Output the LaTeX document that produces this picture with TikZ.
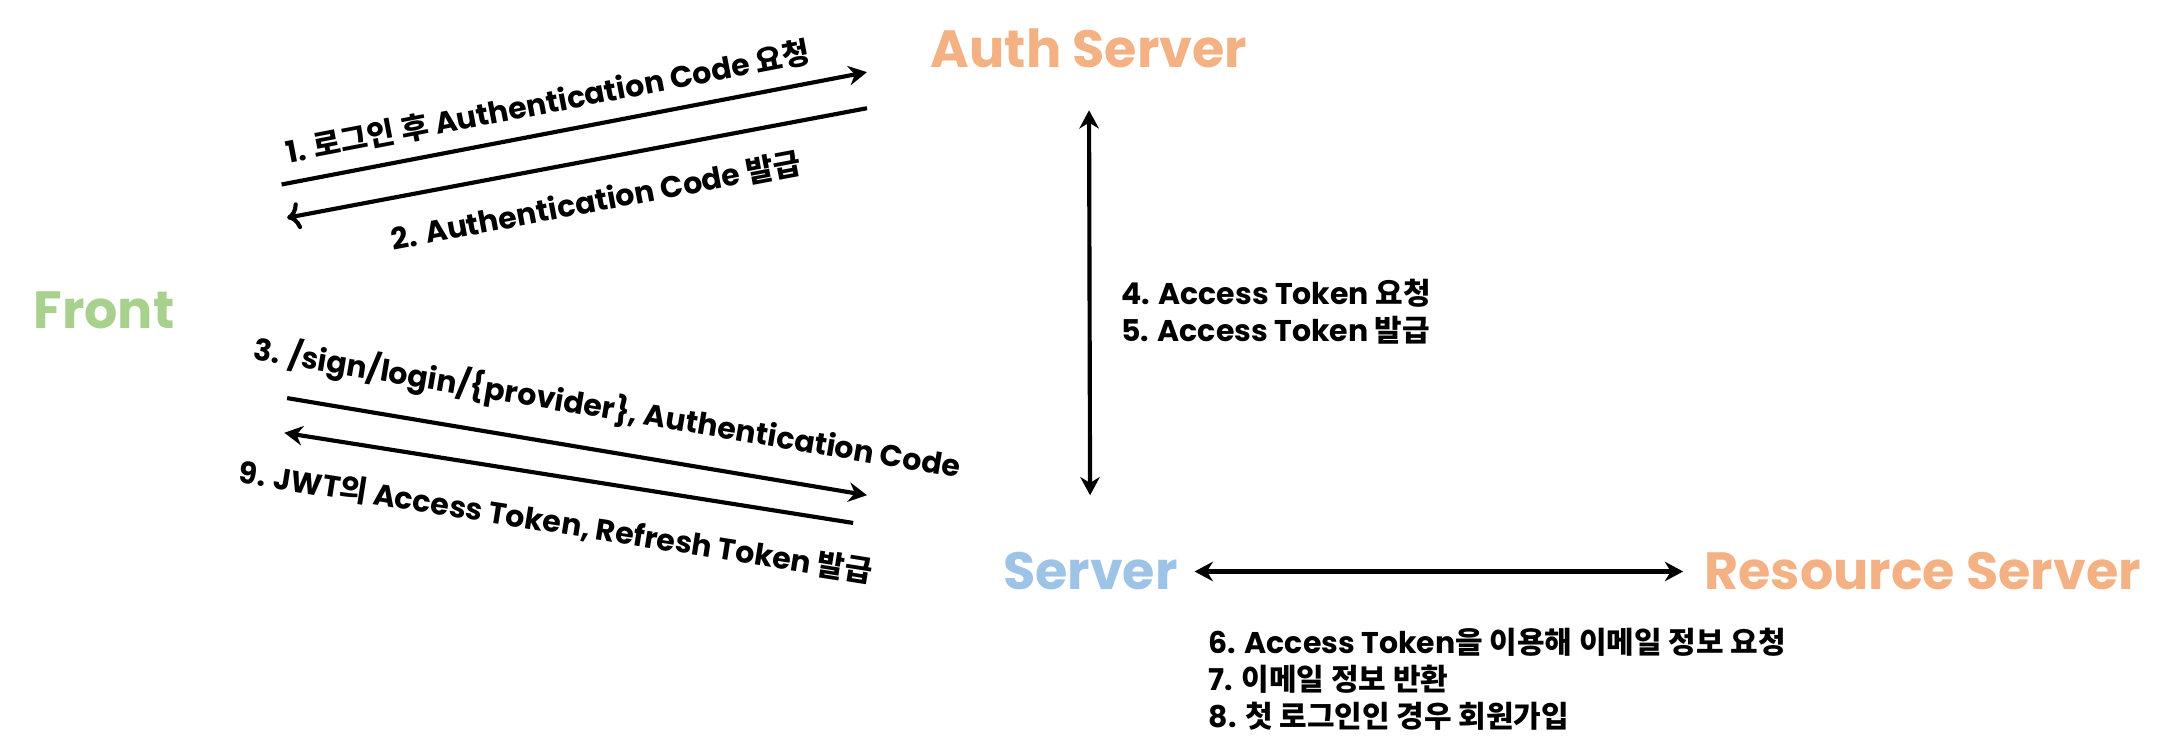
\documentclass[tikz,border=0pt]{standalone}
\usepackage{fontspec}
\setmainfont{Poppins}
\newfontfamily\kr{Noto Sans CJK KR}
\usetikzlibrary{arrows.meta}

\definecolor{authcol}{HTML}{F4B183}
\definecolor{frontcol}{HTML}{A9D18E}
\definecolor{servercol}{HTML}{9DC3E6}

\begin{document}
\begin{tikzpicture}[x=0.02cm, y=-0.02cm,
        party/.style={font=\bfseries\fontsize{21.5}{25}\selectfont, inner sep=0pt},
        msg/.style={font=\bfseries\fontsize{12.3}{15.2}\selectfont, inner sep=0pt},
        flow/.style={line width=1.7pt, -{Stealth[length=7.5pt, width=8pt]}},
        both/.style={line width=1.7pt, {Stealth[length=7.5pt, width=8pt]}-{Stealth[length=7.5pt, width=8pt]}}]
        \useasboundingbox (0, 0) rectangle (1568, 544);
        % parties
        \node [party, text=frontcol] (front) at (75, 224) {Front};
        \node [party, text=authcol] (auth) at (785, 35) {Auth Server};
        \node [party, text=servercol] (server) at (786, 412) {Server};
        \node [party, text=authcol] (res) at (1386, 412) {Resource Server};
        % free ends of the slanted arrows
        \coordinate (f1) at (203, 133);
        \coordinate (a1) at (625, 52);
        \coordinate (f2) at (207, 157);
        \coordinate (a2) at (625, 78);
        \coordinate (f3) at (207, 287);
        \coordinate (s3) at (625, 357);
        \coordinate (f9) at (205, 312);
        \coordinate (s9) at (615, 377);
        % front <-> auth server
        \draw [flow] (f1) -- (a1)
            node [msg, pos=0.465, sloped, above=6pt] {1. {\kr 로그인 후} Authentication Code {\kr 요청}};
        \draw [flow, <-] (f2) -- (a2)
            node [msg, pos=0.52, sloped, below=10pt] {2. Authentication Code {\kr 발급}};
        % front <-> server
        \draw [flow] (f3) -- (s3)
            node [msg, pos=0.54, sloped, above=9pt] {3. /sign/login/\{provider\}, Authentication Code};
        \draw [flow] (s9) -- (f9)
            node [msg, pos=0.51, sloped, below=12pt] {9. JWT{\kr 의} Access Token, Refresh Token {\kr 발급}};
        % server <-> auth server
        \draw [both, shorten <=0.6cm, shorten >=0.82cm] (auth) -- (server);
        \node [msg, anchor=west, align=left] (tok) at (808, 225)
            {4. Access Token {\kr 요청}\\5. Access Token {\kr 발급}};
        % server <-> resource server
        \draw [both, shorten <=0.24cm, shorten >=0.3cm] (server) -- (res);
        \node [msg, anchor=west, align=left] (mail) at (871, 490)
            {6. Access Token{\kr 을 이용해 이메일 정보 요청}\\7. {\kr 이메일 정보 반환}\\8. {\kr 첫 로그인인 경우 회원가입}};
\end{tikzpicture}
\end{document}
